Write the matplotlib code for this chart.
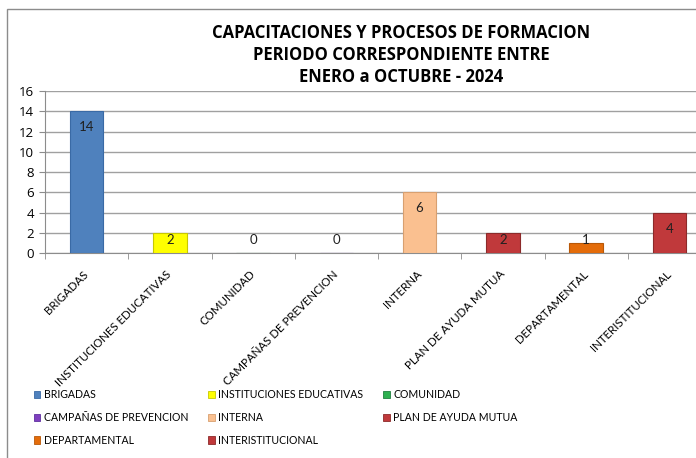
import matplotlib
matplotlib.use("Agg")
import matplotlib.pyplot as plt
from matplotlib.patches import Rectangle, Patch

categories = ["BRIGADAS", "INSTITUCIONES EDUCATIVAS", "COMUNIDAD",
              "CAMPAÑAS DE PREVENCION", "INTERNA", "PLAN DE AYUDA MUTUA",
              "DEPARTAMENTAL", "INTERISTITUCIONAL"]
values = [14, 2, 0, 0, 6, 2, 1, 4]
colors = ["#4F81BD", "#FFFF00", "#2EB050", "#7F3FBF",
          "#FAC090", "#C0393B", "#E46C0A", "#C0393B"]
edges = ["#3A6AA5", "#C8C800", "#208040", "#5F2F9F",
         "#D8A070", "#8C2A2A", "#B85808", "#8C2A2A"]
yticks = [0, 2, 4, 6, 8, 10, 12, 14, 16]
title = "CAPACITACIONES Y PROCESOS DE FORMACION\nPERIODO CORRESPONDIENTE ENTRE\nENERO a OCTUBRE - 2024"

plt.rcParams["font.family"] = ["Lato", "DejaVu Sans"]

figure = plt.figure(figsize=(6.96, 4.58), dpi=100)

# outer chart border (runs off the right and bottom edges)
figure.patches.append(Rectangle((7 / 696, -0.1), 1.0, 1 - 9 / 458 + 0.1,
                                transform=figure.transFigure, fill=False,
                                edgecolor="#8C8C8C", linewidth=1.0))

plot = figure.add_axes([45 / 696, 1 - 253 / 458, 666 / 696, 162 / 458])
x = list(range(len(categories)))
plot.bar(x, values, width=0.4, color=colors, edgecolor=edges, linewidth=0.8, zorder=3)

for i, v in enumerate(values):
    ypos = max(v - 1.6, 1.25)
    plot.text(i, ypos, str(v), ha="center", va="center", fontsize=9.5,
              color="#202020", zorder=4)

plot.set_xlim(-0.5, len(categories) - 0.5)
plot.set_ylim(0, 16)
plot.set_yticks(yticks)
plot.set_yticklabels([str(t) for t in yticks], fontsize=9.5,
                     family=["Open Sans", "DejaVu Sans"])
plot.yaxis.grid(True, color="#A0A0A0", linewidth=1.0, zorder=0)
plot.set_axisbelow(True)

plot.set_xticks(x)
plot.set_xticklabels(categories, rotation=45, ha="right", va="center",
                     rotation_mode="anchor", fontsize=8.3)
plot.tick_params(axis="x", length=0, pad=14)
plot.set_xticks([i + 0.5 for i in x[:-1]] + [-0.5], minor=True)
plot.tick_params(axis="x", which="minor", length=4, color="#8C8C8C")
plot.tick_params(axis="y", length=4, color="#8C8C8C", pad=4)

for side in ["top", "right"]:
    plot.spines[side].set_visible(False)
for side in ["left", "bottom"]:
    plot.spines[side].set_color("#8C8C8C")

figure.text(401 / 696, 1 - 55 / 458, title, ha="center", va="center",
            fontsize=12, fontweight="bold", linespacing=1.3,
            family=["Open Sans", "DejaVu Sans"])

# legend is filled column by column, so reorder to read row by row
order = [0, 3, 6, 1, 4, 7, 2, 5]
handles = [Patch(facecolor=colors[i], edgecolor=edges[i], linewidth=0.6) for i in order]
labels = [categories[i] for i in order]
legend = figure.legend(handles, labels, ncol=3, loc="upper left",
                       bbox_to_anchor=(24 / 696, 1 - 380 / 458), frameon=False,
                       fontsize=7.6, handlelength=0.65, handleheight=0.65,
                       handletextpad=0.3, columnspacing=1.9, labelspacing=1.1)

plt.savefig("out.png", dpi=100)
